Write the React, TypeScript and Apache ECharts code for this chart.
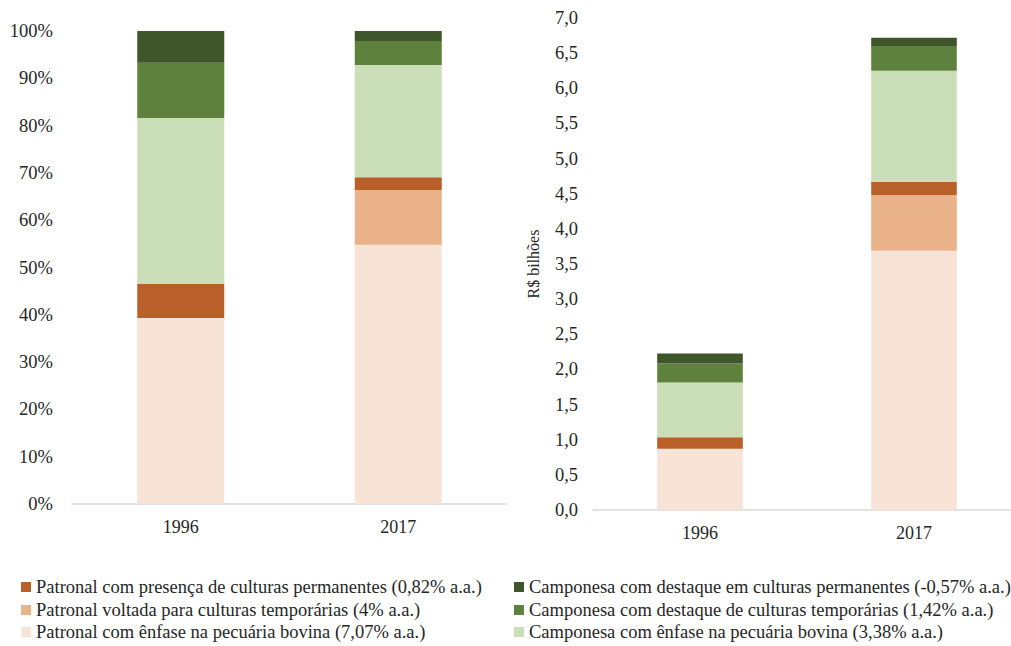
import React, { useEffect, useRef } from "react";
import * as echarts from "echarts";

const years = ["1996", "2017"];

const seriesNames = [
  "Patronal com ênfase na pecuária bovina (7,07% a.a.)",
  "Patronal voltada para culturas temporárias (4% a.a.)",
  "Patronal com presença de culturas permanentes (0,82% a.a.)",
  "Camponesa com ênfase na pecuária bovina (3,38% a.a.)",
  "Camponesa com destaque de culturas temporárias (1,42% a.a.)",
  "Camponesa com destaque em culturas permanentes (-0,57% a.a.)",
];

const colors = ["#F7E4D7", "#E9B289", "#B95F29", "#CADFB7", "#5E823E", "#3E562A"];

// Percent shares (left chart), bottom to top
const pctPatronalPecuaria = [39.3, 54.8];
const pctPatronalTemporarias = [0, 11.6];
const pctPatronalPermanentes = [7.2, 2.7];
const pctCamponesaPecuaria = [35.1, 23.7];
const pctCamponesaTemporarias = [11.7, 5.1];
const pctCamponesaPermanentes = [6.7, 2.1];

// R$ billions (right chart), bottom to top
const bnPatronalPecuaria = [0.87, 3.69];
const bnPatronalTemporarias = [0, 0.79];
const bnPatronalPermanentes = [0.165, 0.19];
const bnCamponesaPecuaria = [0.78, 1.58];
const bnCamponesaTemporarias = [0.27, 0.35];
const bnCamponesaPermanentes = [0.14, 0.12];

const pctData = [
  pctPatronalPecuaria,
  pctPatronalTemporarias,
  pctPatronalPermanentes,
  pctCamponesaPecuaria,
  pctCamponesaTemporarias,
  pctCamponesaPermanentes,
];
const bnData = [
  bnPatronalPecuaria,
  bnPatronalTemporarias,
  bnPatronalPermanentes,
  bnCamponesaPecuaria,
  bnCamponesaTemporarias,
  bnCamponesaPermanentes,
];

// legend layout: [series index, column, row]
const legendOrder = [
  [2, 0, 0],
  [1, 0, 1],
  [0, 0, 2],
  [5, 1, 0],
  [4, 1, 1],
  [3, 1, 2],
];

const FONT = "'Liberation Serif', 'DejaVu Serif', serif";
const TEXT = "#262626";

export default function App() {
  const ref = useRef<HTMLDivElement>(null);
  useEffect(() => {
    if (!ref.current) return;
    const chart = echarts.init(ref.current, undefined, { renderer: "svg" });
    const series: any[] = [];
    pctData.forEach((d, i) => {
      series.push({
        name: seriesNames[i],
        type: "bar",
        stack: "L",
        xAxisIndex: 0,
        yAxisIndex: 0,
        barWidth: "40%",
        itemStyle: { color: colors[i] },
        data: d,
      });
    });
    bnData.forEach((d, i) => {
      series.push({
        name: seriesNames[i],
        type: "bar",
        stack: "R",
        xAxisIndex: 1,
        yAxisIndex: 1,
        barWidth: "40%",
        itemStyle: { color: colors[i] },
        data: d,
      });
    });
    const xAxisCommon = {
      type: "category",
      data: years,
      axisTick: { show: false },
      axisLine: { lineStyle: { color: "#D9D9D9", width: 1.5 } },
      axisLabel: { color: TEXT, fontFamily: FONT, fontSize: 18, margin: 14 },
    };
    const colLeft = [21, 514];
    const rowTop = [577, 600, 622];
    const legends = legendOrder.map(([si, col, row]) => ({
      orient: "horizontal",
      left: colLeft[col],
      top: rowTop[row],
      padding: 0,
      itemWidth: 10,
      itemHeight: 10,
      icon: "rect",
      selectedMode: false,
      textStyle: { color: TEXT, fontFamily: FONT, fontSize: 18.5, lineHeight: 20 },
      data: [seriesNames[si]],
    }));
    chart.setOption({
      animation: false,
      backgroundColor: "#ffffff",
      grid: [
        { left: 72, top: 31, width: 435, height: 473 },
        { left: 593, top: 18, width: 428, height: 492 },
      ],
      xAxis: [
        { ...xAxisCommon, gridIndex: 0 },
        { ...xAxisCommon, gridIndex: 1 },
      ],
      yAxis: [
        {
          type: "value",
          gridIndex: 0,
          min: 0,
          max: 100,
          interval: 10,
          splitLine: { show: false },
          axisLine: { show: false },
          axisTick: { show: false },
          axisLabel: {
            color: TEXT,
            fontFamily: FONT,
            fontSize: 18.5,
            margin: 19,
            formatter: (v: number) => v + "%",
          },
        },
        {
          type: "value",
          gridIndex: 1,
          min: 0,
          max: 7,
          interval: 0.5,
          splitLine: { show: false },
          axisLine: { show: false },
          axisTick: { show: false },
          name: "R$ bilhões",
          nameLocation: "middle",
          nameRotate: 90,
          nameGap: 52,
          nameTextStyle: { color: TEXT, fontFamily: FONT, fontSize: 16 },
          axisLabel: {
            color: TEXT,
            fontFamily: FONT,
            fontSize: 18.5,
            margin: 15,
            formatter: (v: number) => v.toFixed(1).replace(".", ","),
          },
        },
      ],
      legend: legends,
      series,
    });
    return () => chart.dispose();
  }, []);
  return (
    <div
      style={{
        position: "absolute",
        left: 0,
        top: 0,
        width: 1011,
        height: 646,
        overflow: "hidden",
      }}
    >
      <div ref={ref} style={{ width: 1040, height: 646 }} />
    </div>
  );
}
